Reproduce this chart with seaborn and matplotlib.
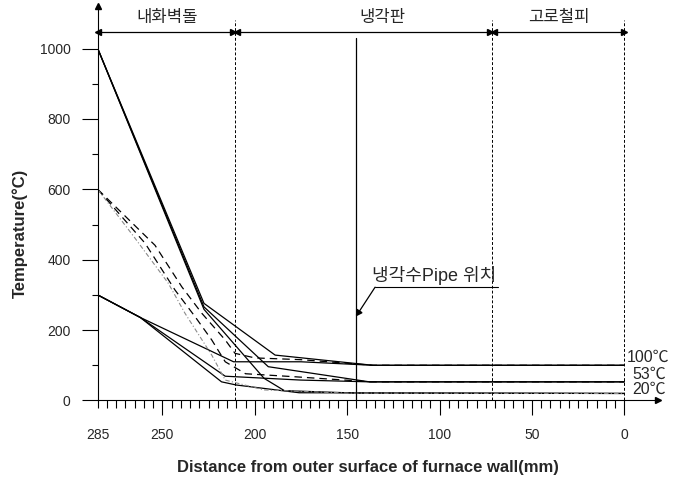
"""Temperature profile through the furnace wall (refractory / cooling stave / shell)"""
import matplotlib
matplotlib.use("Agg")
import matplotlib.pyplot as plt
import seaborn as sns

# --- data ------------------------------------------------------------------
# solid lines starting at 1000 C (cooling water 100 / 53 / 20 C)
hot_100_x = [285, 227.5, 189, 136, 0]
hot_100_y = [1000, 276, 129, 100, 100]
hot_53_x = [285, 227.5, 192.7, 138, 0]
hot_53_y = [1000, 266, 96, 53, 53]
hot_20_x = [285, 227.5, 195, 184, 145, 0]
hot_20_y = [1000, 259, 63, 28, 21, 20]

# dashed lines starting at 600 C
mid_100_x = [285, 254, 239.5, 228.7, 216, 210.7, 200, 175, 136, 0]
mid_100_y = [600, 441, 323, 248, 172, 134, 121, 116, 100, 100]
mid_53_x = [285, 259.4, 243.2, 232.3, 223.3, 216, 205, 180, 137, 0]
mid_53_y = [600, 447, 314, 238, 172, 110, 76, 68, 53, 53]
mid_20_x = [285, 264.8, 246.8, 237.8, 223.3, 216, 195, 150, 0]
mid_20_y = [600, 461, 333, 248, 129, 58, 30, 21, 20]

# solid lines starting at 300 C
low_100_x = [285, 262, 211.5, 175, 136, 0]
low_100_y = [300, 236, 110, 110, 100, 100]
low_53_x = [285, 262, 216, 175, 138, 0]
low_53_y = [300, 236, 69, 58, 53, 53]
low_20_x = [285, 262, 218, 210, 176, 0]
low_20_y = [300, 236, 53, 44, 22, 20]

zone_bounds = [285, 210.7, 71.6, 0]
zone_names = ["내화벽돌", "냉각판", "고로철피"]
zone_label_x = [247.5, 131, 35.5]
pipe_x = 145
pipe_label = "냉각수Pipe 위치"
end_labels = ["100℃", "53℃", "20℃"]
end_label_x = [-1.5, -4.2, -4.2]
end_label_y = [122, 75, 33]

x_major = [250, 200, 150, 100, 50, 0]
x_minor = [v for v in range(5, 286, 5) if v not in x_major]
y_major = [0, 200, 400, 600, 800, 1000]
y_minor = list(range(100, 1000, 200))

# --- style ------------------------------------------------------------------
sns.set_style("white")
plt.rcParams['font.family'] = ['Liberation Sans', 'Noto Sans CJK KR', 'DejaVu Sans']
plt.rcParams['axes.unicode_minus'] = False

fig = plt.figure(figsize=(6.82, 4.79), dpi=100)
ax = fig.add_axes([0.1433, 0.1639, 0.8215, 0.8236])

solid = [(hot_100_x, hot_100_y), (hot_53_x, hot_53_y), (hot_20_x, hot_20_y),
         (low_100_x, low_100_y), (low_53_x, low_53_y), (low_20_x, low_20_y)]
for xs, ys in solid:
    sns.lineplot(x=xs, y=ys, ax=ax, sort=False, estimator=None,
                 color="black", lw=0.9)

for xs, ys in [(mid_100_x, mid_100_y), (mid_53_x, mid_53_y)]:
    sns.lineplot(x=xs, y=ys, ax=ax, sort=False, estimator=None,
                 color="black", lw=0.9).lines[-1].set_dashes([6, 4])
sns.lineplot(x=mid_20_x, y=mid_20_y, ax=ax, sort=False, estimator=None,
             color="#8a8a8a", lw=0.8).lines[-1].set_dashes([4, 2, 1, 2])

ax.set_xlim(285, -18.2)
ax.set_ylim(0, 1121)

# zone boundaries and cooling pipe
for xb in zone_bounds[1:]:
    ax.plot([xb, xb], [0, 1081], color="black", lw=0.7, dashes=[3, 2])
ax.plot([pipe_x, pipe_x], [0, 1030], color="black", lw=0.9)

# double arrows over each zone (line + triangle heads)
for i, name in enumerate(zone_names):
    left = zone_bounds[i] - (0 if i == 0 else 1.2)
    right = zone_bounds[i + 1] + (1.2 if i < 2 else 0)
    ax.plot([left, right], [1047, 1047], color="black", lw=0.9, clip_on=False)
    ax.plot([left], [1047], marker="<", ms=5, color="black", clip_on=False)
    ax.plot([right], [1047], marker=">", ms=5, color="black", clip_on=False)
    ax.text(zone_label_x[i], 1089, name, ha="center", va="center", fontsize=12)

# pipe callout
ax.text(136.5, 354, pipe_label, ha="left", va="center", fontsize=13)
ax.plot([134.9, 68.3], [322, 322], color="black", lw=0.8)
ax.plot([134.9, 144.1], [322, 248], color="black", lw=0.9)
ax.plot([144.1], [252], marker=(3, 0, 147), ms=5, color="black")

for lab, lx, ly in zip(end_labels, end_label_x, end_label_y):
    ax.text(lx, ly, lab, ha="left", va="center", fontsize=11.5, clip_on=False)

# axes: only left/bottom with arrow heads
for side in ["top", "right"]:
    ax.spines[side].set_visible(False)
for side in ["left", "bottom"]:
    ax.spines[side].set_color("black")
    ax.spines[side].set_linewidth(0.8)
ax.plot([285], [1121], marker="^", ms=4, color="black", clip_on=False)
ax.plot([-18.2], [0], marker=">", ms=4, color="black", clip_on=False)

# ticks: long every 50, short every 5 (drawn as a tick rug);
# "285" sits on a zero-length minor tick
ax.set_xticks(x_major, labels=[str(v) for v in x_major])
ax.set_xticks([285], labels=["285"], minor=True)
ax.vlines(x_minor, -0.0195, 0, transform=ax.get_xaxis_transform(),
          color="black", lw=0.8, clip_on=False, zorder=5)
ax.set_yticks(y_major, labels=[str(v) for v in y_major])
ax.set_yticks(y_minor, minor=True)
ax.tick_params(axis="x", which="major", direction="out", length=11, width=0.8,
               pad=9, labelsize=10, color="black", bottom=True)
ax.tick_params(axis="x", which="minor", direction="out", length=0,
               pad=20, labelsize=10, bottom=True)
ax.tick_params(axis="y", which="major", direction="out", length=11.5, width=0.8,
               pad=8, labelsize=10, color="black", left=True)
ax.tick_params(axis="y", which="minor", direction="out", length=4.3, width=0.8,
               color="black", left=True)

ax.text(0.4815, -0.1686, "Distance from outer surface of furnace wall(mm)",
        transform=ax.transAxes, ha="center", va="center", fontsize=12,
        fontweight="bold")
ax.text(-0.1387, 0.4233, "Temperature(°C)", transform=ax.transAxes,
        ha="center", va="center", rotation=90, fontsize=12, fontweight="bold")

fig.canvas.draw()
fig.savefig("out.png", dpi=100)
